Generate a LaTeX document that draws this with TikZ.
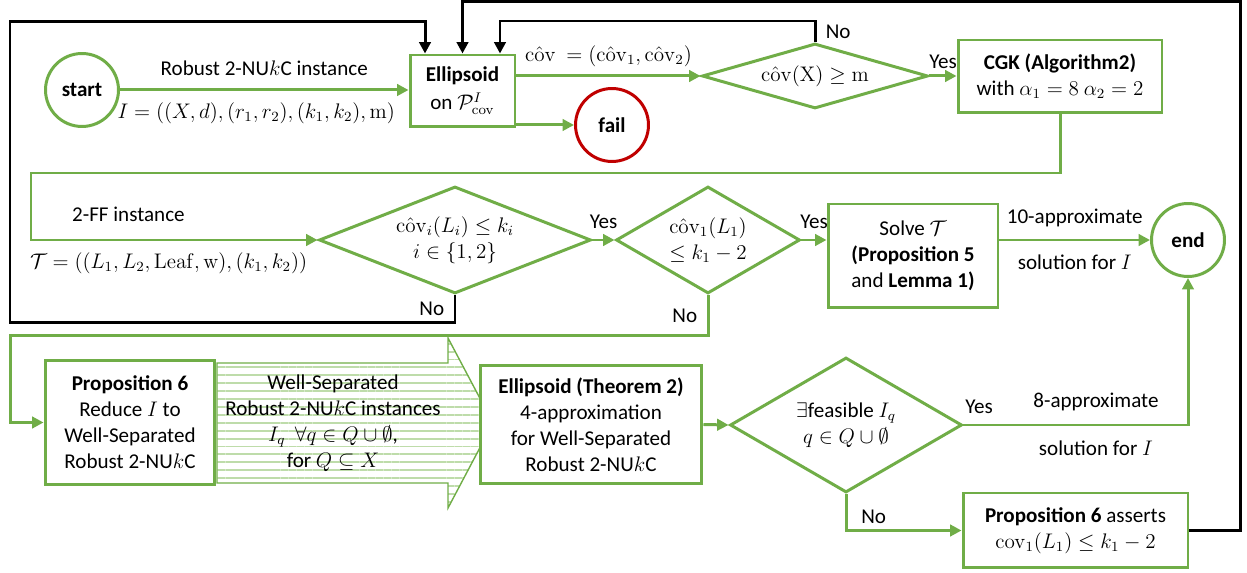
\documentclass[tikz,border=0pt]{standalone}
\usepackage{amsmath,amssymb}
\usepackage[no-math]{fontspec}
\setmainfont{Carlito}
\usetikzlibrary{arrows.meta,shapes.geometric,patterns.meta,positioning,calc}
\definecolor{grn}{RGB}{112,173,71}
\definecolor{lightgrn}{RGB}{190,220,170}
\definecolor{darkred}{RGB}{192,0,0}
\newcommand{\covhat}{\mathrm{c\hat{o}v}}

\begin{document}
\begin{tikzpicture}[x=0.02cm, y=-0.02cm, font=\fontsize{12}{14.8}\selectfont,
    proc/.style={draw=grn, line width=1.7pt, fill=white, align=center, inner sep=2pt},
    test/.style={diamond, draw=grn, line width=1.7pt, fill=white, align=center, inner sep=0pt},
    term/.style={circle, draw=grn, line width=1.7pt, fill=white, minimum size=1.46cm, inner sep=0pt, font=\fontsize{12}{14.8}\selectfont\bfseries},
    flow/.style={draw=grn, line width=1.7pt, -{Triangle[length=6.5pt,width=6.5pt]}},
    back/.style={draw=black, line width=1.7pt, -{Triangle[length=6.5pt,width=6.5pt]}}]
    \useasboundingbox (0,0) rectangle (1247,573);

    % Hatched reduction arrow
    \draw[draw=grn, line width=0.8pt, pattern={Lines[angle=0, distance=4.5pt, line width=1.1pt]}, pattern color=lightgrn]
        (217,363) -- (448,363) -- (448,338) -- (493,423) -- (448,508) -- (448,483) -- (217,483) -- cycle;
    \node[align=center] (wstext) at (333,423) {Well-Separated\\Robust 2-NU$k$C instances\\$I_q\ \ \forall q\in Q\cup\emptyset$,\\for $Q\subseteq X$};

    % Top row
    \node[term] (start) at (82,90) {start};
    \node[proc, minimum width=2.1cm, minimum height=1.44cm] (ellip) at (462.5,91) {\textbf{Ellipsoid}\\[1pt]on $\mathcal{P}^{I}_{\mathrm{cov}}$};
    \node[term, draw=darkred] (fail) at (612,125) {fail};
    \node[test, shape aspect=3.4, minimum width=4.52cm, minimum height=1.3cm] (cover) at (815,76) {$\covhat(\mathrm{X})\geq\mathrm{m}$};
    \node[proc, minimum width=4.08cm, minimum height=1.46cm] (cgk) at (1060,76.5) {\textbf{CGK (Algorithm2)}\\with $\alpha_1=8\ \alpha_2=2$};

    % Middle row
    \node[test, shape aspect=2.5, minimum width=5.44cm, minimum height=2.14cm] (bound) at (455,240) {$\covhat_i(L_i)\leq k_i$\\$i\in\{1,2\}$};
    \node[test, shape aspect=1.7, minimum width=3.68cm, minimum height=2.14cm] (first) at (708,240) {$\covhat_1(L_1)$\\$\leq k_1-2$};
    \node[proc, minimum width=3.4cm, minimum height=2.08cm] (solve) at (913,256) {Solve $\mathcal{T}$\\\textbf{(Proposition 5}\\and \textbf{Lemma 1)}};
    \node[term] (end) at (1188,240) {end};

    % Bottom row
    \node[proc, minimum width=3.4cm, minimum height=2.5cm] (prop6) at (130,422.5) {\textbf{Proposition 6}\\Reduce $I$ to\\Well-Separated\\Robust 2-NU$k$C};
    \node[proc, minimum width=4.44cm, minimum height=2.38cm] (ellip2) at (591,424.5) {\textbf{Ellipsoid (Theorem 2)}\\4-approximation\\for Well-Separated\\Robust 2-NU$k$C};
    \node[test, shape aspect=1.7, minimum width=4.64cm, minimum height=2.7cm] (feas) at (846,425) {$\exists$feasible $I_q$\\$q\in Q\cup\emptyset$};
    \node[proc, minimum width=4.5cm, minimum height=1.5cm] (assert) at (1075.5,530.5) {\textbf{Proposition 6} asserts\\$\mathrm{cov}_1(L_1)\leq k_1-2$};

    % Green flow
    \draw[flow] (start.east) -- node[above=4pt] {Robust 2-NU$k$C instance} node[below=3pt, xshift=-0.16cm] {$I=((X,d),(r_1,r_2),(k_1,k_2),\mathrm{m})$} (start.east -| ellip.west);
    \draw[flow] (ellip.east |- cover.west) -- node[above=1pt] {$\covhat\ =(\covhat_1,\covhat_2)$} (cover.west);
    \draw[flow] (ellip.east |- fail.west) -- (fail.west);
    \draw[flow] (cover.east) -- node[above] {Yes} (cover.east -| cgk.west);
    \draw[flow] (cgk.south) |- (31,173) |- node[pos=0.67, above=6pt] {2-FF instance} node[pos=0.74, below=3pt] {$\mathcal{T}=((L_1,L_2,\mathrm{Leaf},\mathrm{w}),(k_1,k_2))$} (bound.west);
    \draw[flow] (bound.east) -- node[above=2pt] {Yes} (first.west);
    \draw[flow] (first.east) -- node[above=2pt] {Yes} (first.east -| solve.west);
    \draw[flow] (solve.east |- end.west) -- node[above=3pt] {10-approximate} node[below=4pt] {solution for $I$} (end.west);
    \draw[flow] (first.south) -- node[left=2pt] {No} ++(0,41) -| ([xshift=-0.66cm]prop6.west) -- (prop6.west);
    \draw[flow] (ellip2.east) -- (feas.west);
    \draw[flow] (feas.east) -- node[pos=0.07, above=2pt] {Yes} node[pos=0.59, above=4pt] {8-approximate} node[pos=0.59, below=5pt] {solution for $I$} (end.south |- feas.east) -- (end.south);
    \draw[flow] (feas.south) |- node[pos=0.62, above] {No} (assert.west);

    % Black feedback loops
    \draw[back] (cover.north) -- node[right=2pt] {No} ++(0,-21) -| ([xshift=0.75cm]ellip.north);
    \draw[back] (bound.south) -- node[left=2pt] {No} ++(0,28) -| (10,22) -| ([xshift=-0.75cm]ellip.north);
    \draw[back] (assert.east) -| (1240,2) -| (ellip.north);
\end{tikzpicture}
\end{document}
